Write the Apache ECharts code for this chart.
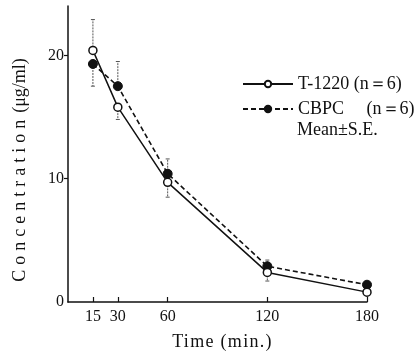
<!DOCTYPE html>
<html><head><meta charset="utf-8">
<script src="https://cdn.jsdelivr.net/npm/echarts@6/dist/echarts.min.js"></script>
<style>html,body{margin:0;padding:0;background:#fff}#c{width:417px;height:356px}</style>
</head><body><div id="c"></div>
<script>
// ---- data ----
const times = [15, 30, 60, 120, 180];
const t1220 = [20.4, 15.8, 9.7, 2.4, 0.8];
const t1220SE = [2.5, 1.0, 1.2, 0.7, 0.2];
const cbpc = [19.3, 17.5, 10.4, 2.9, 1.4];
const cbpcSE = [1.8, 2.0, 1.2, 0.5, 0.2];
const xTicks = [15, 30, 60, 120, 180];
const yLabels = [0, 10, 20];
const yTicks = [10, 20];
const seriesNames = ['T-1220 (n＝6)', 'CBPC     (n＝6)'];
const yNameMain = 'Concentration';
const yNameUnit = '(μg/ml)';
const yName = yNameMain + ' ' + yNameUnit;
const xName = 'Time (min.)';
const note = 'Mean±S.E.';

const FONT = "'Liberation Serif', 'DejaVu Serif', serif";
const INK = '#111';

// letter spacing for the axis titles (canvas native letterSpacing)
const origFill = CanvasRenderingContext2D.prototype.fillText;
function resetFont(ctx) { const f = ctx.font; ctx.font = '10px sans-serif'; ctx.font = f; ctx.letterSpacing = '0px'; }
CanvasRenderingContext2D.prototype.fillText = function (t, x, y) {
  if (!('letterSpacing' in this)) return origFill.apply(this, arguments);
  if (t === yName) {
    const S1 = 5, GAP = 7;
    this.save();
    this.letterSpacing = '0px';
    const m1 = this.measureText(yNameMain).width;
    const m2 = this.measureText(yNameUnit).width;
    const w1 = m1 + S1 * (yNameMain.length - 1);
    const total = w1 + GAP + m2;
    const x0 = x - total / 2;
    this.textAlign = 'left';
    this.letterSpacing = S1 + 'px';
    origFill.call(this, yNameMain, x0, y);
    this.letterSpacing = '0px';
    origFill.call(this, yNameUnit, x0 + w1 + GAP, y);
    this.restore();
    resetFont(this);
    return;
  }
  if (t === xName) {
    this.save();
    this.letterSpacing = '1.3px';
    origFill.apply(this, arguments);
    this.restore();
    resetFont(this);
    return;
  }
  return origFill.apply(this, arguments);
};

function pairs(vals) { return times.map((t, i) => [t, vals[i]]); }
function errData(vals, se, other) {
  return times.map((t, i) => {
    const up = vals[i] >= other[i];
    return [t, vals[i], up ? vals[i] + se[i] : vals[i] - se[i]];
  });
}
function errRender(params, api) {
  const p1 = api.coord([api.value(0), api.value(1)]);
  const p2 = api.coord([api.value(0), api.value(2)]);
  const st = { stroke: '#555', lineWidth: 1 };
  return {
    type: 'group', children: [
      { type: 'line', shape: { x1: p1[0], y1: p1[1], x2: p2[0], y2: p2[1] }, style: Object.assign({ lineDash: [2, 1] }, st) },
      { type: 'line', shape: { x1: p2[0] - 2, y1: p2[1], x2: p2[0] + 2, y2: p2[1] }, style: st }
    ]
  };
}

const chart = echarts.init(document.getElementById('c'), null, { renderer: 'canvas' });
chart.setOption({
  backgroundColor: '#fff',
  animation: false,
  grid: { left: 68, right: 50, top: 6, bottom: 52 },
  xAxis: {
    type: 'value', min: 0, max: 180,
    name: xName, nameLocation: 'middle', nameGap: 31,
    nameTextStyle: { fontFamily: FONT, fontSize: 18, color: INK, padding: [0, 0, 0, 10] },
    axisLine: { lineStyle: { color: INK, width: 1.5 } },
    axisTick: { customValues: xTicks, inside: true, length: 5, lineStyle: { color: INK, width: 1.2 } },
    axisLabel: { customValues: xTicks, margin: 7, fontFamily: FONT, fontSize: 16, color: INK },
    splitLine: { show: false }
  },
  yAxis: {
    type: 'value', min: 0, max: 24,
    axisLine: { show: true, lineStyle: { color: INK, width: 1.5 } },
    axisTick: { show: true, customValues: yTicks, inside: false, length: 4, lineStyle: { color: INK, width: 1.2 } },
    axisLabel: { customValues: yLabels, margin: 4, fontFamily: FONT, fontSize: 16, color: INK },
    splitLine: { show: false }
  },
  legend: {
    orient: 'vertical', left: 237, top: 70,
    itemWidth: 50, itemHeight: 8, itemGap: 7,
    data: seriesNames,
    textStyle: { fontFamily: FONT, fontSize: 18, color: INK }
  },
  graphic: [
    {
      type: 'text', x: 20, y: 170, rotation: Math.PI / 2,
      style: { text: yName, x: 0, y: 0, font: '18px ' + FONT, fill: INK,
        textAlign: 'center', textVerticalAlign: 'middle', align: 'center', verticalAlign: 'middle' }
    },
    {
      type: 'text', left: 297, top: 121,
      style: { text: note, font: '18px ' + FONT, fill: INK }
    }
  ],
  series: [
    { type: 'custom', renderItem: errRender, data: errData(t1220, t1220SE, cbpc), encode: { x: 0, y: [1, 2] }, z: 1, silent: true },
    { type: 'custom', renderItem: errRender, data: errData(cbpc, cbpcSE, t1220), encode: { x: 0, y: [1, 2] }, z: 1, silent: true },
    {
      name: seriesNames[0], type: 'line', data: pairs(t1220), z: 3,
      symbol: 'circle', symbolSize: 8,
      lineStyle: { color: INK, width: 1.5, type: 'solid' },
      itemStyle: { color: '#fff', borderColor: INK, borderWidth: 1.5 }
    },
    {
      name: seriesNames[1], type: 'line', data: pairs(cbpc), z: 2,
      symbol: 'circle', symbolSize: 9,
      lineStyle: { color: INK, width: 1.6, type: [5, 3] },
      itemStyle: { color: INK, borderColor: INK, borderWidth: 1 }
    }
  ]
});
</script>
</body></html>
